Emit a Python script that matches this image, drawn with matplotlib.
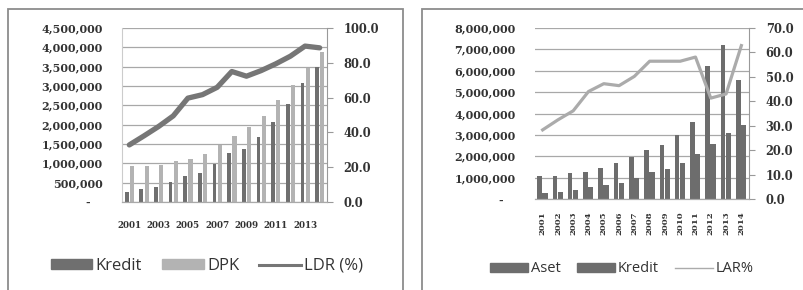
import numpy as np
import matplotlib.pyplot as plt
from matplotlib.patches import Rectangle
from matplotlib.lines import Line2D

years = list(range(2001, 2015))

# left chart
kredit_l = [260000, 340000, 400000, 520000, 660000, 750000, 970000, 1270000,
            1380000, 1670000, 2060000, 2530000, 3090000, 3480000]
dpk_l = [920000, 920000, 950000, 1070000, 1110000, 1240000, 1470000, 1700000,
         1930000, 2220000, 2650000, 3030000, 3470000, 3880000]
ldr = [32.8, 38.0, 43.4, 49.5, 59.7, 61.7, 65.9, 75.0, 72.3, 75.5, 79.4, 83.8, 89.6, 88.6]

# right chart
aset_r = [1080000, 1080000, 1200000, 1250000, 1440000, 1670000, 1980000, 2270000,
          2530000, 2980000, 3610000, 6200000, 7220000, 5580000]
kredit_r = [300000, 340000, 420000, 550000, 660000, 770000, 1000000, 1280000,
            1420000, 1700000, 2110000, 2550000, 3110000, 3480000]
lar = [28.3, 32.4, 36.1, 44.0, 47.2, 46.4, 50.2, 56.4, 56.4, 56.4, 58.1, 41.3, 43.0, 62.8]

W, H = 804, 290
fig = plt.figure(figsize=(W / 100, H / 100), dpi=100)
fig.patch.set_facecolor('white')

serif = 'DejaVu Serif'
sans = 'Open Sans'


def box(x0, y0, x1, y1):
    return [x0 / W, 1 - y1 / H, (x1 - x0) / W, (y1 - y0) / H]


def fmt_money(v):
    return '-   ' if v == 0 else f'{int(v):,}'


def style_axes(ax, ax2, ymax, ystep, rmax, rstep, grid_c):
    yt = np.arange(0, ymax + 1, ystep)
    ax.set_ylim(0, ymax)
    ax.set_yticks(yt)
    ax.set_yticklabels([fmt_money(v) for v in yt], fontfamily=serif,
                       fontweight='bold', fontsize=8, color='#333333')
    ax.tick_params(axis='y', length=0, pad=14)
    ax.yaxis.grid(True, color=grid_c, linewidth=0.9)
    ax.set_axisbelow(True)
    ax.set_xlim(-0.5, len(years) - 0.5)
    rt = np.arange(0, rmax + 0.1, rstep)
    ax2.set_ylim(0, rmax)
    ax2.set_yticks(rt)
    ax2.set_yticklabels([f'{v:.1f}' for v in rt], fontfamily=serif,
                        fontweight='bold', fontsize=8.3, color='#333333')
    ax2.tick_params(axis='y', length=4, width=0.8, color='#999999', pad=8)
    for a in (ax, ax2):
        a.spines['top'].set_visible(False)
        a.spines['left'].set_visible(False)
        a.spines['right'].set_visible(False)
        a.spines['bottom'].set_color('#aaaaaa')
    ax2.spines['right'].set_visible(True)
    ax2.spines['right'].set_color('#999999')


x = np.arange(len(years))

# ---- left panel
ax = fig.add_axes(box(122, 28, 327, 202))
ax2 = ax.twinx()
ax.bar(x - 0.18, kredit_l, width=0.25, color='#6f6f6f')
ax.bar(x + 0.18, dpk_l, width=0.28, color='#b3b3b3')
ax2.plot(x, ldr, color='#767676', linewidth=3.8, solid_capstyle='round')
style_axes(ax, ax2, 4500000, 500000, 100, 20, '#a8a8a8')
ax.spines['left'].set_visible(True)
ax.spines['left'].set_color('#cccccc')
ax.set_xticks(x[::2])
ax.set_xticklabels([str(y) for y in years[::2]], fontfamily=serif,
                   fontweight='bold', fontsize=6.3, color='#333333')
ax.tick_params(axis='x', length=0, pad=14)

leg_l = [Rectangle((0, 0), 1, 1, color='#6f6f6f'),
         Rectangle((0, 0), 1, 1, color='#b3b3b3'),
         Line2D([], [], color='#767676', linewidth=2.2)]
fig.legend(leg_l, ['Kredit', 'DPK', 'LDR (%)'], loc='center', ncol=3,
           bbox_to_anchor=(207 / W, 1 - 266 / H), frameon=False,
           prop={'family': sans, 'size': 12}, handlelength=2.5,
           handleheight=0.55, handletextpad=0.2, columnspacing=1.2,
           labelcolor='#333333')

# ---- right panel
bx = fig.add_axes(box(535, 28, 749, 199))
bx2 = bx.twinx()
bx.bar(x - 0.2, aset_r, width=0.3, color='#6d6d6d')
bx.bar(x + 0.15, kredit_r, width=0.35, color='#6d6d6d')
bx2.plot(x, lar, color='#ababab', linewidth=2.3)
style_axes(bx, bx2, 8000000, 1000000, 70, 10, '#a8a8a8')
bx.set_xticks(x)
bx.set_xticklabels([str(y) for y in years], fontfamily=serif, rotation=90,
                   fontweight='bold', fontsize=6.1, color='#333333')
bx.tick_params(axis='x', length=0, pad=9)

leg_r = [Rectangle((0, 0), 1, 1, color='#6d6d6d'),
         Rectangle((0, 0), 1, 1, color='#6d6d6d'),
         Line2D([], [], color='#ababab', linewidth=1.0)]
fig.legend(leg_r, ['Aset', 'Kredit', 'LAR%'], loc='center', ncol=3,
           bbox_to_anchor=(622 / W, 1 - 269 / H), frameon=False,
           prop={'family': sans, 'size': 10.5}, handlelength=2.6,
           handleheight=0.6, handletextpad=0.2, columnspacing=1.1,
           labelcolor='#333333')

# panel frames
fig.add_artist(Rectangle((8 / W, -0.05), (403 - 8) / W, 1.05 - 9 / H,
                         transform=fig.transFigure, fill=False,
                         edgecolor='#8c8c8c', linewidth=1.3))
fig.add_artist(Rectangle((422 / W, -0.05), 0.5, 1.05 - 9 / H,
                         transform=fig.transFigure, fill=False,
                         edgecolor='#8c8c8c', linewidth=1.3))

fig.savefig('out.png', dpi=100)
